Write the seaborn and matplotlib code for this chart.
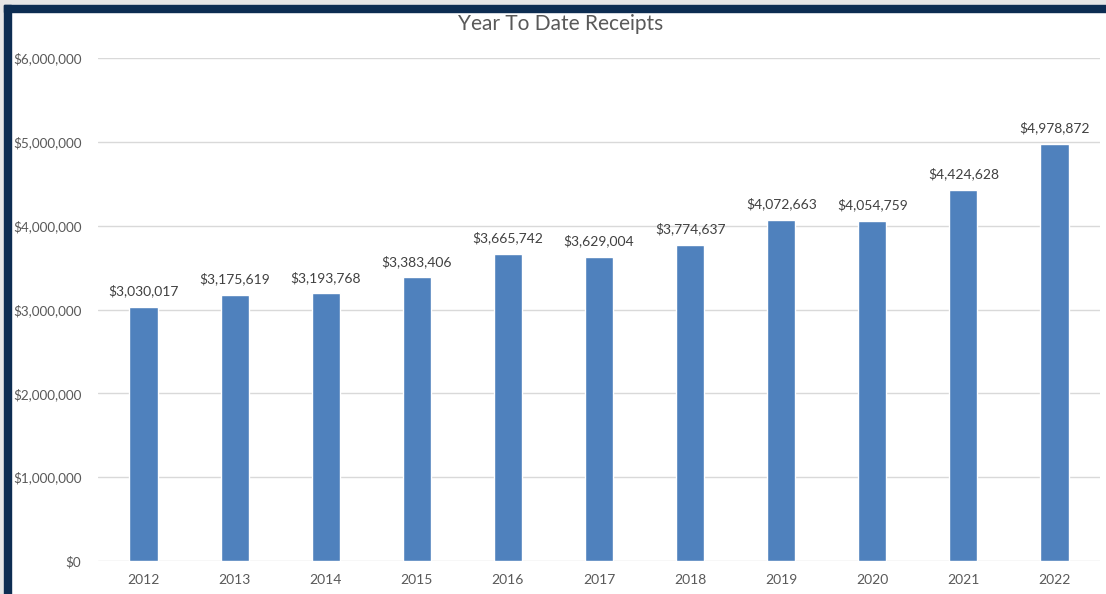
import matplotlib
matplotlib.use("Agg")
import matplotlib.pyplot as plt
import seaborn as sns
import pandas as pd
from matplotlib.patches import Rectangle
from matplotlib.ticker import FuncFormatter, MultipleLocator

years = ["2012", "2013", "2014", "2015", "2016", "2017", "2018", "2019", "2020", "2021", "2022"]
receipts = [3030017, 3175619, 3193768, 3383406, 3665742, 3629004, 3774637, 4072663, 4054759, 4424628, 4978872]
title = "Year To Date Receipts"

sns.set_theme(style="white")
plt.rcParams['font.family'] = ['Lato', 'DejaVu Sans']

W, H = 1106, 594
fig = plt.figure(figsize=(W / 100, H / 100), dpi=100)
fig.patch.set_facecolor("white")

# frame decoration (gray margin + navy border top and left)
fig.add_artist(Rectangle((0, 1 - 5 / H), 1, 5 / H, transform=fig.transFigure, color="#E6E6E6", zorder=0))
fig.add_artist(Rectangle((0, 0), 4 / W, 1, transform=fig.transFigure, color="#E6E6E6", zorder=0))
fig.add_artist(Rectangle((4 / W, 1 - 12 / H), 1, 7 / H, transform=fig.transFigure, color="#0D2D52", zorder=1))
fig.add_artist(Rectangle((4 / W, 0), 7 / W, 1 - 5 / H, transform=fig.transFigure, color="#0D2D52", zorder=1))

ax = fig.add_axes([98 / W, 1 - 561 / H, (1100 - 98) / W, (561 - 58) / H])
df = pd.DataFrame({"year": years, "receipts": receipts})
sns.barplot(data=df, x="year", y="receipts", color="#4F81BD", saturation=1, width=0.31, ax=ax, zorder=3)

ax.set_ylim(0, 6000000)
ax.set_xlim(-0.5, len(years) - 0.5)
ax.yaxis.set_major_locator(MultipleLocator(1000000))
ax.yaxis.set_major_formatter(FuncFormatter(lambda v, p: f"${v:,.0f}"))
ax.grid(axis="y", color="#D9D9D9", linewidth=1, zorder=0)
ax.set_axisbelow(True)
for s in ax.spines.values():
    s.set_visible(False)
ax.set_xlabel("")
ax.set_ylabel("")
ax.tick_params(axis="y", length=0, pad=12, labelsize=9.7, labelcolor="#595959")
ax.tick_params(axis="x", length=0, pad=9, labelsize=10, labelcolor="#595959")

for i, v in enumerate(receipts):
    ax.annotate(f"${v:,.0f}", (i, v), xytext=(0, 11.5), textcoords="offset points",
                ha="center", va="center", fontsize=10, color="#404040")

fig.text(561 / W, 1 - 23.5 / H, title, ha="center", va="center", fontsize=15, color="#595959")

fig.savefig("out.png", dpi=100)
